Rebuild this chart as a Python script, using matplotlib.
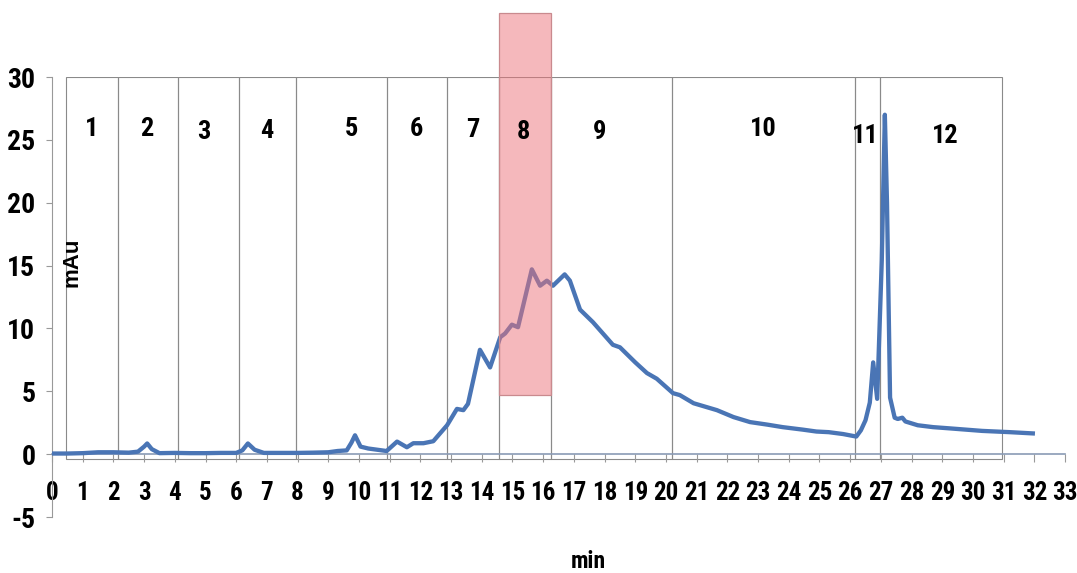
import matplotlib
matplotlib.use("Agg")
import matplotlib.pyplot as plt
from matplotlib import font_manager
from matplotlib.patches import Rectangle

# ---------------- data ----------------
time_min = [0, 0.5, 1.0, 1.5, 2.0, 2.5, 2.8, 3.0, 3.1, 3.25, 3.5, 4.0, 4.5, 5.0, 5.5,
            6.0, 6.2, 6.38, 6.6, 6.9, 7.5, 8.0, 8.5, 9.0, 9.3, 9.6, 9.75, 9.87, 10.05,
            10.3, 10.6, 10.9, 11.24, 11.56, 11.77, 12.1, 12.42, 12.87, 13.19, 13.4,
            13.55, 13.94, 14.27, 14.6, 14.76, 14.98, 15.18, 15.63, 15.9, 16.12, 16.32,
            16.7, 16.87, 17.2, 17.62, 18.27, 18.5, 19.0, 19.38, 19.7, 20.23, 20.45,
            20.9, 21.66, 22.2, 22.74, 23.3, 23.8, 24.46, 24.9, 25.3, 25.77, 26.2,
            26.35, 26.5, 26.64, 26.75, 26.88, 27.03, 27.13, 27.2, 27.3, 27.45, 27.55,
            27.7, 27.8, 28.2, 28.7, 29.25, 30.3, 31.2, 31.95]
signal_mau = [0.05, 0.05, 0.08, 0.15, 0.15, 0.12, 0.2, 0.6, 0.85, 0.4, 0.08, 0.1, 0.08, 0.08, 0.1,
              0.1, 0.3, 0.85, 0.35, 0.1, 0.1, 0.1, 0.12, 0.15, 0.25, 0.3, 0.9, 1.5, 0.6,
              0.45, 0.35, 0.25, 1.0, 0.55, 0.87, 0.87, 1.03, 2.3, 3.6, 3.5,
              4.0, 8.3, 6.9, 9.3, 9.6, 10.3, 10.1, 14.7, 13.4, 13.8, 13.4,
              14.3, 13.8, 11.5, 10.5, 8.7, 8.5, 7.3, 6.45, 6.0, 4.85, 4.7,
              4.05, 3.5, 2.95, 2.55, 2.35, 2.15, 1.95, 1.8, 1.75, 1.6, 1.4,
              1.9, 2.7, 4.1, 7.3, 4.4, 15.4, 27.0, 20.0, 4.5, 2.9, 2.8,
              2.9, 2.6, 2.3, 2.15, 2.05, 1.85, 1.75, 1.65]

fraction_edges = [0.46, 2.14, 4.12, 6.10, 7.94, 10.92, 12.87, 14.56, 16.27, 20.21, 26.17, 26.98, 30.93]
fraction_labels = ["1", "2", "3", "4", "5", "6", "7", "8", "9", "10", "11", "12"]
label_x = [1.3, 3.1, 4.95, 7.0, 9.75, 11.86, 13.7, 15.37, 17.85, 23.16, 26.5, 29.1]
label_y = [25.9, 25.9, 25.6, 25.7, 25.9, 25.9, 25.8, 25.6, 25.6, 25.9, 25.3, 25.3]
selected_fraction = "8"
x_ticks = list(range(0, 34))
y_ticks = [-5, 0, 5, 10, 15, 20, 25, 30]

# ---------------- fonts ----------------
avail = {f.name for f in font_manager.fontManager.ttflist}
narrow = None
for cand in ["Liberation Sans Narrow", "Roboto Condensed", "DejaVu Sans Condensed", "Liberation Sans"]:
    if cand in avail:
        narrow = cand
        break
if narrow is None:
    narrow = "DejaVu Sans"
plt.rcParams["font.family"] = [narrow, "DejaVu Sans"]

# ---------------- figure ----------------
fig = plt.figure(figsize=(10.77, 5.73), dpi=100)
ax = fig.add_axes([0.0483, 0.0977, 0.9406, 0.7679])

line_color = "#4a75b5"
box_color = "#8a8a8a"

# fraction boxes
for i in range(len(fraction_edges) - 1):
    x0, x1 = fraction_edges[i], fraction_edges[i + 1]
    ax.add_patch(Rectangle((x0, -0.35), x1 - x0, 30.35, fill=False,
                           edgecolor=box_color, lw=0.8, zorder=1))
    ax.text(label_x[i], label_y[i], fraction_labels[i], ha="center", va="center",
            fontsize=19, fontweight="bold", color="black", zorder=5)

# chromatogram
ax.plot(time_min, signal_mau, color=line_color, lw=3.1,
        solid_joinstyle="round", zorder=3)

# highlighted fraction
k = fraction_labels.index(selected_fraction)
px0, px1 = fraction_edges[k], fraction_edges[k + 1]
ax.add_patch(Rectangle((px0, 4.7), px1 - px0, 30.4, facecolor=(0.93, 0.45, 0.48, 0.5),
                       edgecolor="#c98a8e", lw=0.9, clip_on=False, zorder=4))

# axes styling
ax.set_xlim(0, 33)
ax.set_ylim(-5, 30)
ax.spines["top"].set_visible(False)
ax.spines["right"].set_visible(False)
ax.spines["bottom"].set_position(("data", 0))
ax.spines["bottom"].set_color("#8a9bb5")
ax.spines["bottom"].set_linewidth(1.2)
ax.spines["left"].set_color("#999999")
ax.spines["left"].set_linewidth(0.8)

ax.set_xticks(x_ticks)
ax.set_xticklabels([str(t) for t in x_ticks], fontsize=18, fontweight="bold")
ax.set_yticks(y_ticks)
ax.set_yticklabels([str(t) for t in y_ticks], fontsize=20, fontweight="bold")
ax.tick_params(axis="x", direction="out", length=6, width=0.8, color="#999999", pad=13)
ax.tick_params(axis="y", direction="out", length=4, width=0.8, color="#999999", pad=8)

ax.text(0.65, 15.3, "mAu", rotation=90, ha="center", va="center",
        fontsize=16, fontweight="bold", family=["Liberation Sans", "DejaVu Sans"], zorder=5)
fig.text(588 / 1077, 1 - 562 / 573, "min", ha="center", va="center",
         fontsize=17, fontweight="bold")

fig.savefig("out.png", dpi=100, facecolor="white")
